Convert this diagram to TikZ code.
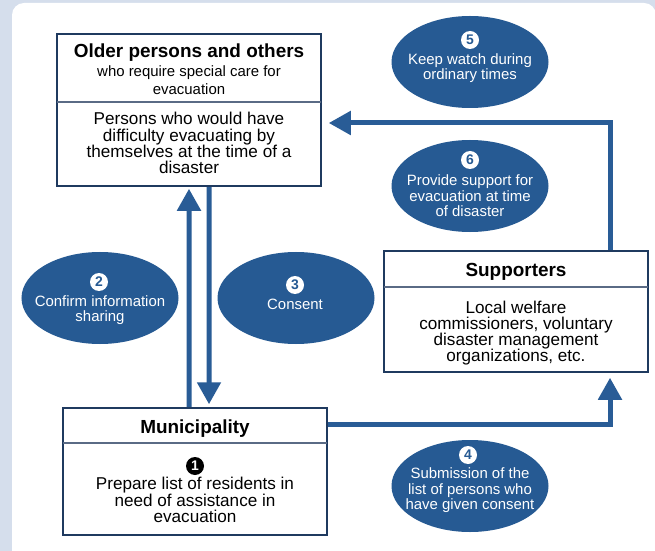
\documentclass[tikz,border=0pt]{standalone}
\usepackage{fontspec}
\setmainfont{Liberation Sans}
\usetikzlibrary{arrows.meta,shapes.geometric}
\definecolor{bgblue}{HTML}{D5DEEC}
\definecolor{ellblue}{HTML}{265A93}
\definecolor{navy}{HTML}{1F3A5F}
\definecolor{arrblue}{HTML}{295C96}
\definecolor{divgray}{HTML}{5A6B85}
\begin{document}
\begin{tikzpicture}[x=1bp,y=-1bp,
  box/.style={draw=navy, line width=2.5bp, fill=white, rectangle, inner sep=0},
  divider/.style={draw=divgray, line width=1.5bp},
  ttl/.style={font=\bfseries\fontsize{19}{21}\selectfont, inner sep=0},
  sub/.style={font=\fontsize{15}{18}\selectfont, align=center, inner sep=0},
  body/.style={font=\fontsize{17.2}{16.3}\selectfont, align=center, inner sep=0},
  oval/.style={ellipse, fill=ellblue, minimum width=157bp, minimum height=92bp, inner sep=0},
  ovtext/.style={text=white, font=\fontsize{15}{15.6}\selectfont, align=center, inner sep=0},
  wnum/.style={circle, fill=white, text=ellblue, font=\bfseries\fontsize{14}{14}\selectfont, minimum size=18bp, inner sep=0},
  bnum/.style={circle, fill=black, text=white, font=\bfseries\fontsize{14}{14}\selectfont, minimum size=18bp, inner sep=0},
  flow/.style={draw=arrblue, line width=5bp, -{Triangle[width=23bp,length=22bp]}}
]
\useasboundingbox (0,0) rectangle (655,551);
\fill[bgblue] (0,0) rectangle (655,551);
\fill[white, rounded corners=12bp] (12,3) rectangle (656,562);

% boxes
\node[box, minimum width=264bp, minimum height=152bp] (older) at (189,110) {};
\draw[divider] ([xshift=1.2bp]older.west |- 0,102) -- ([xshift=-1.2bp]older.east |- 0,102);
\node[ttl] (olderT) at (189,53) {Older persons and others};
\node[sub] (olderS) at (189,80.5) {who require special care for\\evacuation};
\node[body] (olderB) at (189,143) {Persons who would have\\difficulty evacuating by\\themselves at the time of a\\disaster};

\node[box, minimum width=264bp, minimum height=121bp] (supp) at (516,311.5) {};
\draw[divider] ([xshift=1.2bp]supp.west |- 0,287) -- ([xshift=-1.2bp]supp.east |- 0,287);
\node[ttl] (suppT) at (516,271.5) {Supporters};
\node[body] (suppB) at (516,333) {Local welfare\\commissioners, voluntary\\disaster management\\organizations, etc.};

\node[box, minimum width=264bp, minimum height=127bp] (muni) at (195,471.5) {};
\draw[divider] ([xshift=1.2bp]muni.west |- 0,443) -- ([xshift=-1.2bp]muni.east |- 0,443);
\node[ttl] (muniT) at (195,429) {Municipality};
\node[bnum] (n1) at (195,466) {1};
\node[body] (muniB) at (195,500) {Prepare list of residents in\\need of assistance in\\evacuation};

% ellipses
\node[oval] (e5) at (470,62) {};
\node[wnum] (n5) at (470,40) {5};
\node[ovtext] (t5) at (470,68) {Keep watch during\\ordinary times};
\node[oval] (e6) at (470,186) {};
\node[wnum] (n6) at (470,160) {6};
\node[ovtext] (t6) at (470,196) {Provide support for\\evacuation at time\\of disaster};
\node[oval] (e2) at (100,298) {};
\node[wnum] (n2) at (99,282) {2};
\node[ovtext] (t2) at (100,310) {Confirm information\\sharing};
\node[oval] (e3) at (296,298) {};
\node[wnum] (n3) at (295,285) {3};
\node[ovtext] (t3) at (295,304) {Consent};
\node[oval] (e4) at (470,486) {};
\node[wnum] (n4) at (468,455) {4};
\node[ovtext] (t4) at (470,490.5) {Submission of the\\list of persons who\\have given consent};

% connectors
\draw[flow, shorten >=1.5bp] ([xshift=-6bp]muni.north) -- (older.south);
\draw[flow, shorten >=2.5bp] ([xshift=20bp]older.south) -- ([xshift=14bp]muni.north);
\draw[flow, shorten >=4.5bp] ([yshift=47.5bp]muni.east) -| ([xshift=94bp]supp.south);
\draw[flow, shorten >=6.5bp] ([xshift=94bp]supp.north) |- ([yshift=-13bp]older.east);
\end{tikzpicture}
\end{document}
